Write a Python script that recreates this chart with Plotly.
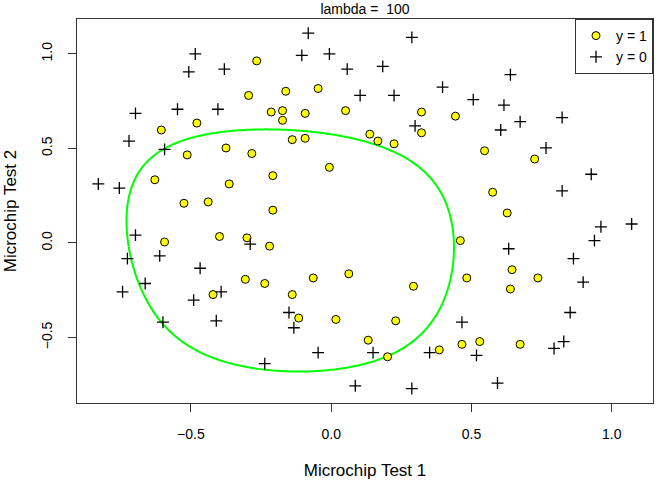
import numpy as np
import plotly.graph_objects as go

# ex2data2: microchip test results
test1 = [0.051267,-0.092742,-0.21371,-0.375,-0.51325,-0.52477,-0.39804,-0.30588,0.016705,0.13191,
         0.38537,0.52938,0.63882,0.73675,0.54666,0.322,0.16647,-0.046659,-0.17339,-0.47869,
         -0.60541,-0.62846,-0.59389,-0.42108,-0.11578,0.20104,0.46601,0.67339,-0.13882,-0.29435,
         -0.26555,-0.16187,-0.17339,-0.28283,-0.36348,-0.30012,-0.23675,-0.06394,0.062788,0.22984,
         0.2932,0.48329,0.64459,0.46025,0.6273,0.57546,0.72523,0.22408,0.44297,0.322,
         0.13767,-0.0063364,-0.092742,-0.20795,-0.20795,-0.43836,-0.21947,-0.13882,0.18376,0.22408,
         0.29896,0.50634,0.61578,0.60426,0.76555,0.92684,0.82316,0.96141,0.93836,0.86348,
         0.89804,0.85196,0.82892,0.79435,0.59274,0.51786,0.46601,0.35081,0.28744,0.085829,
         0.14919,-0.13306,-0.40956,-0.39228,-0.74366,-0.69758,-0.75518,-0.69758,-0.4038,-0.38076,
         -0.50749,-0.54781,0.10311,0.057028,-0.10484,-0.081797,0.28744,0.39689,0.63882,0.82316,
         0.67339,1.0709,-0.046659,-0.23675,-0.15035,-0.49021,-0.46717,-0.28859,-0.61118,-0.66302,
         -0.59965,-0.72638,-0.83007,-0.72062,-0.59389,-0.48445,-0.0063364,0.63265]
test2 = [0.69956,0.68494,0.69225,0.50219,0.46564,0.2098,0.034357,-0.19225,-0.40424,-0.51389,
         -0.56506,-0.5212,-0.24342,-0.18494,0.48757,0.5826,0.53874,0.81652,0.69956,0.63377,
         0.59722,0.33406,0.005117,-0.27266,-0.39693,-0.60161,-0.53582,-0.53582,0.54605,0.77997,
         0.96272,0.8019,0.64839,0.47295,0.31213,0.027047,-0.21418,-0.18494,-0.16301,-0.41155,
         -0.2288,-0.18494,-0.14108,0.012427,0.15863,0.26827,0.44371,0.52412,0.67032,0.69225,
         0.57529,0.39985,0.55336,0.35599,0.17325,0.21711,-0.016813,-0.27266,0.93348,0.77997,
         0.61915,0.75804,0.7288,0.59722,0.50219,0.3633,0.27558,0.085526,0.012427,-0.082602,
         -0.20687,-0.36769,-0.5212,-0.55775,-0.7405,-0.5943,-0.41886,-0.57968,-0.76974,-0.75512,
         -0.57968,-0.4481,-0.41155,-0.25804,-0.25804,0.041667,0.2902,0.68494,0.70687,0.91886,
         0.90424,0.70687,0.77997,0.91886,0.99196,1.1089,1.087,0.82383,0.88962,0.66301,
         0.64108,0.10015,-0.57968,-0.63816,-0.36769,-0.3019,-0.13377,-0.0060673,-0.067982,-0.21418,
         -0.41886,-0.082602,0.31213,0.53874,0.49488,0.99927,0.99927,-0.030612]
accepted = [1]*58 + [0]*60

lambda_ = 100
degree = 6

x1 = np.array(test1); x2 = np.array(test2); yv = np.array(accepted, dtype=float)

def map_feature(a, b):
    a = np.atleast_1d(a); b = np.atleast_1d(b)
    cols = [np.ones_like(a)]
    for i in range(1, degree + 1):
        for j in range(i + 1):
            cols.append(a ** (i - j) * b ** j)
    return np.stack(cols, axis=-1)

X = map_feature(x1, x2)
m, n = X.shape
theta = np.zeros(n)
for _ in range(50):
    h = 1 / (1 + np.exp(-X @ theta))
    reg = np.r_[0, theta[1:]] * lambda_ / m
    g = X.T @ (h - yv) / m + reg
    R = np.eye(n) * lambda_ / m; R[0, 0] = 0
    H = (X.T * (h * (1 - h))) @ X / m + R
    theta = theta - np.linalg.solve(H, g)

u = np.linspace(-1, 1.5, 200)
v = np.linspace(-1, 1.5, 200)
U, V = np.meshgrid(u, v)
Z = (map_feature(U.ravel(), V.ravel()) @ theta).reshape(U.shape)

pos_x = [a for a, c in zip(test1, accepted) if c == 1]
pos_y = [b for b, c in zip(test2, accepted) if c == 1]
neg_x = [a for a, c in zip(test1, accepted) if c == 0]
neg_y = [b for b, c in zip(test2, accepted) if c == 0]

fig = go.Figure()
fig.add_trace(go.Contour(x=u, y=v, z=Z, contours=dict(start=0, end=0, size=1, coloring='lines'),
                         colorscale=[[0, '#00FF00'], [1, '#00FF00']], line=dict(width=2),
                         showscale=False, showlegend=False, hoverinfo='skip'))
fig.add_trace(go.Scatter(x=pos_x, y=pos_y, mode='markers', name='y = 1',
                         marker=dict(symbol='circle', size=8, color='yellow',
                                     line=dict(color='black', width=1))))
fig.add_trace(go.Scatter(x=neg_x, y=neg_y, mode='markers', name='y = 0',
                         marker=dict(symbol='cross-thin', size=8.5,
                                     line=dict(color='black', width=1.3))))

font = dict(family='Liberation Sans, Arial, sans-serif', size=14, color='black')
fig.update_layout(
    width=672, height=480, plot_bgcolor='white', paper_bgcolor='white',
    margin=dict(l=77, r=19, t=19, b=77),
    font=font,
    title=dict(text='lambda =  100', x=0.5 * (77 + 653) / 672, xanchor='center', y=1 - 9 / 480,
               yanchor='middle', font=dict(size=14)),
    legend=dict(x=1, y=1, xanchor='right', yanchor='top', bordercolor='#333', borderwidth=1,
                bgcolor='white', font=dict(size=14), itemwidth=30, tracegroupgap=0),
    showlegend=True,
)
fig.update_xaxes(range=[-0.906, 1.147], tickvals=[-0.5, 0, 0.5, 1.0], tickformat='.1f',
                 showgrid=False, zeroline=False, showline=True, linecolor='#333', linewidth=1,
                 mirror=True, ticks='outside', ticklen=8, tickcolor='#333',
                 ticklabelstandoff=10, automargin=False,
                 title=dict(text='Microchip Test 1', standoff=24))
fig.update_yaxes(range=[-0.846, 1.184], tickvals=[-0.5, 0, 0.5, 1.0], tickformat='.1f',
                 tickangle=-90, ticklabelstandoff=10, automargin=False,
                 showgrid=False, zeroline=False, showline=True, linecolor='#333', linewidth=1,
                 mirror=True, ticks='outside', ticklen=8, tickcolor='#333',
                 title=dict(text='Microchip Test 2', standoff=18))
fig.write_html('out.html')
